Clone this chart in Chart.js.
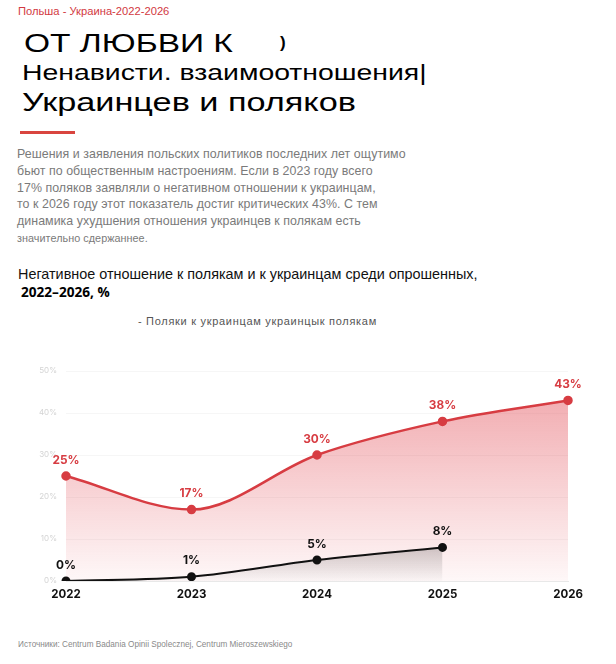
<!DOCTYPE html>
<html>
<head>
<meta charset="utf-8">
<script src="https://cdn.jsdelivr.net/npm/chart.js@4"></script>
<style>
  body { margin: 0; background: #fff; font-family: "Liberation Sans", Arial, sans-serif; }
  .page { position: relative; width: 616px; height: 664px; overflow: hidden; }
  .abs { position: absolute; white-space: nowrap; }
  .wide { transform-origin: 0 0; }
  #tag { left: 18px; top: 5px; font-size: 11.2px; color: #d2393f; }
  #t1 { left: 24px; top: 29px; font-size: 25px; color: #000; transform: scaleX(1.34); }
  #t1b { left: 280px; top: 33px; font-size: 17px; font-weight: bold; color: #000; }
  #t2 { left: 22px; top: 60px; font-size: 22px; color: #000; transform: scaleX(1.29); }
  #t3 { left: 22px; top: 88px; font-size: 25px; color: #000; transform: scaleX(1.37); }
  #bar { left: 20px; top: 131px; width: 55px; height: 3px; background: #d9453f; }
  #para { left: 17px; top: 146px; font-size: 12.4px; line-height: 16.8px; color: #7a7a7a; letter-spacing: 0.05px; }
  #para .small { font-size: 10.8px; }
  #ct1 { left: 18px; top: 266px; font-size: 14.4px; color: #111; }
  #ct2 { left: 21px; top: 282px; font-size: 13.6px; font-weight: bold; color: #000; font-family: "Open Sans", sans-serif; }
  #leg { left: 138px; top: 315px; font-size: 11px; letter-spacing: 0.7px; color: #555; }
  #src { left: 18px; top: 640px; font-size: 8.2px; color: #8a8a8a; }
  #wrap { position: absolute; left: 0; top: 340px; width: 616px; height: 270px; }
</style>
</head>
<body>
<div class="page">
  <div class="abs" id="tag">Польша - Украина-2022-2026</div>
  <div class="abs wide" id="t1">ОТ ЛЮБВИ К</div>
  <div class="abs" id="t1b">)</div>
  <div class="abs wide" id="t2">Ненависти. взаимоотношения|</div>
  <div class="abs wide" id="t3">Украинцев и поляков</div>
  <div class="abs" id="bar"></div>
  <div class="abs" id="para">Решения и заявления польских политиков последних лет ощутимо<br>бьют по общественным настроениям. Если в 2023 году всего<br>17% поляков заявляли о негативном отношении к украинцам,<br>то к 2026 году этот показатель достиг критических 43%. С тем<br>динамика ухудшения отношения украинцев к полякам есть<br><span class="small">значительно сдержаннее.</span></div>
  <div class="abs" id="ct1">Негативное отношение к полякам и к украинцам среди опрошенных,</div>
  <div class="abs" id="ct2">2022–2026, %</div>
  <div class="abs" id="leg">- Поляки к украинцам украинцык полякам</div>
  <div id="wrap"><canvas id="myChart"></canvas></div>
  <div class="abs" id="src">Источники: Centrum Badania Opinii Spolecznej, Centrum Mieroszewskiego</div>
</div>
<script>
const years = ["2022", "2023", "2024", "2025", "2026"];
const polesToUkr = [25, 17, 30, 38, 43];
const ukrToPoles = [0, 1, 5, 8, null];
const yTicks = [0, 10, 20, 30, 40, 50];

const RED = '#d73c42';
const BLACK = '#111111';

// draws the value above every point in the dataset colour
const valueLabels = {
    id: 'valueLabels',
    afterDatasetsDraw(chart) {
        const ctx = chart.ctx;
        ctx.save();
        ctx.font = 'bold 11.8px Inter, "DejaVu Sans", sans-serif';
        ctx.textAlign = 'center';
        ctx.textBaseline = 'bottom';
        chart.data.datasets.forEach((ds, i) => {
            const meta = chart.getDatasetMeta(i);
            meta.data.forEach((pt, j) => {
                const v = ds.data[j];
                if (v === null || v === undefined) return;
                ctx.fillStyle = ds.borderColor;
                ctx.fillText(v + '%', pt.x, pt.y - 10);
            });
        });
        ctx.restore();
    }
};

function redFill(context) {
    const area = context.chart.chartArea;
    if (!area) return 'rgba(226,70,80,0.2)';
    const g = context.chart.ctx.createLinearGradient(0, area.top, 0, area.bottom);
    g.addColorStop(0, 'rgba(226,70,80,0.5)');
    g.addColorStop(1, 'rgba(226,70,80,0.04)');
    return g;
}

function greyFill(context) {
    const chart = context.chart;
    const area = chart.chartArea;
    if (!area) return 'rgba(60,60,60,0.1)';
    const top = chart.scales.y.getPixelForValue(9);
    const g = chart.ctx.createLinearGradient(0, top, 0, area.bottom);
    g.addColorStop(0, 'rgba(70,70,70,0.28)');
    g.addColorStop(1, 'rgba(70,70,70,0.02)');
    return g;
}

let canvas = document.getElementById('myChart');
let ctx = canvas.getContext('2d');
var chart = new Chart(ctx, {
    type: 'line',
    data: {
        labels: years,
        datasets: [{
            label: 'Поляки к украинцам',
            data: polesToUkr,
            borderColor: RED,
            backgroundColor: redFill,
            pointBackgroundColor: RED,
            pointBorderColor: RED,
            borderWidth: 2.5,
            pointRadius: 3.5,
            fill: 'origin',
            cubicInterpolationMode: 'monotone',
            order: 1
        }, {
            label: 'Украинцы к полякам',
            data: ukrToPoles,
            borderColor: BLACK,
            backgroundColor: greyFill,
            pointBackgroundColor: BLACK,
            pointBorderColor: BLACK,
            borderWidth: 2,
            pointRadius: 3.5,
            fill: 'origin',
            cubicInterpolationMode: 'monotone',
            spanGaps: false,
            order: 0
        }]
    },
    options: {
        responsive: true,
        maintainAspectRatio: false,
        animation: false,
        layout: { padding: { top: 31, right: 48, bottom: 0, left: 0 } },
        plugins: {
            legend: { display: false },
            tooltip: { enabled: false }
        },
        scales: {
            x: {
                offset: false,
                grid: { display: false, drawTicks: false },
                border: { color: '#e8e8e8', width: 1 },
                ticks: {
                    padding: 7,
                    color: '#111',
                    font: { family: 'Inter, "DejaVu Sans", sans-serif', size: 11.5, weight: 'bold' }
                },
                afterFit(scale) { scale.height = 29; }
            },
            y: {
                min: 0,
                max: 50,
                afterBuildTicks(scale) { scale.ticks = yTicks.map(v => ({ value: v })); },
                grid: { color: 'rgba(0,0,0,0.035)', drawTicks: false },
                border: { display: false },
                ticks: {
                    padding: 9,
                    color: '#d4d4d4',
                    font: { family: 'Inter, sans-serif', size: 8 },
                    callback: v => v + '%'
                },
                afterFit(scale) { scale.width = 66; }
            }
        }
    },
    plugins: [valueLabels]
});
</script>
</body>
</html>
